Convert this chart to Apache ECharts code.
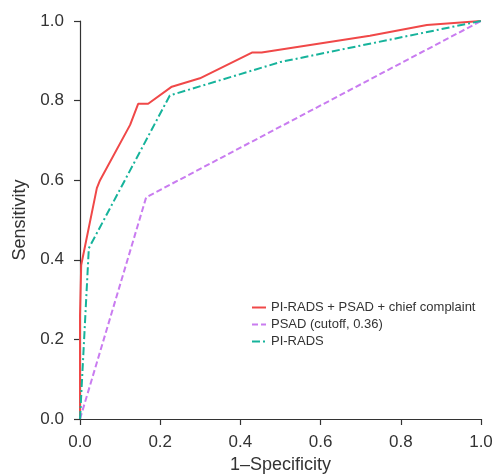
<!DOCTYPE html>
<html>
<head>
<meta charset="utf-8">
<script src="https://cdn.jsdelivr.net/npm/echarts@6/dist/echarts.min.js"></script>
<style>
  html, body { margin: 0; padding: 0; background: #fff; }
  #main { width: 493px; height: 474px; }
</style>
</head>
<body>
<div id="main"></div>
<script>
// ROC curves
var seriesNames = ["PI-RADS + PSAD + chief complaint", "PSAD (cutoff, 0.36)", "PI-RADS"];

var comboFpr = [0, 0, 0.003, 0.042, 0.05, 0.125, 0.145, 0.17, 0.229, 0.299, 0.43, 0.453, 0.723, 0.865, 1];
var comboTpr = [0, 0.26, 0.387, 0.58, 0.60, 0.739, 0.792, 0.792, 0.835, 0.856, 0.921, 0.921, 0.963, 0.99, 1];

var psadFpr = [0, 0.165, 1];
var psadTpr = [0, 0.557, 1];

var piradsFpr = [0, 0.022, 0.224, 0.5, 1];
var piradsTpr = [0, 0.429, 0.813, 0.897, 1];

function pairs(xs, ys) {
    return xs.map(function (x, i) { return [x, ys[i]]; });
}

var chart = echarts.init(document.getElementById("main"));
var font = "Liberation Sans, Arial, Helvetica, sans-serif";

var axisCommon = {
    type: "value",
    min: 0,
    max: 1,
    interval: 0.2,
    splitLine: { show: false },
    axisLine: { show: true, lineStyle: { color: "#333", width: 1.2 } },
    axisTick: { show: true, length: 6, lineStyle: { color: "#333", width: 1.2 } },
    axisLabel: {
        color: "#333",
        fontSize: 17,
        fontFamily: font,
        formatter: function (v) { return v.toFixed(1); }
    },
    nameLocation: "middle",
    nameTextStyle: { color: "#333", fontSize: 18, fontFamily: font }
};

chart.setOption({
    animation: false,
    grid: { left: 80, right: 12, top: 21, bottom: 55, outerBoundsMode: "none" },
    xAxis: Object.assign({}, axisCommon, {
        name: "1\u2013Specificity", nameGap: 37,
        axisLabel: Object.assign({}, axisCommon.axisLabel, { margin: 15 })
    }),
    yAxis: Object.assign({}, axisCommon, {
        name: "Sensitivity", nameGap: 51,
        axisLabel: Object.assign({}, axisCommon.axisLabel, { margin: 16 })
    }),
    legend: {
        orient: "vertical",
        left: 251,
        top: 301,
        padding: 0,
        itemWidth: 14,
        itemHeight: 10,
        itemGap: 4,
        itemStyle: { opacity: 0 },
        textStyle: { color: "#333", fontSize: 13, fontFamily: font },
        data: seriesNames
    },
    series: [
        {
            name: seriesNames[0],
            type: "line",
            data: pairs(comboFpr, comboTpr),
            symbol: "none",
            lineStyle: { color: "#f04848", width: 2 },
            itemStyle: { color: "#f04848" }
        },
        {
            name: seriesNames[1],
            type: "line",
            data: pairs(psadFpr, psadTpr),
            symbol: "none",
            lineStyle: { color: "#c97cf0", width: 2, type: [6, 3] },
            itemStyle: { color: "#c97cf0" }
        },
        {
            name: seriesNames[2],
            type: "line",
            data: pairs(piradsFpr, piradsTpr),
            symbol: "none",
            lineStyle: { color: "#16b39b", width: 2, type: [8, 3, 2, 3] },
            itemStyle: { color: "#16b39b" }
        }
    ]
});
</script>
</body>
</html>
